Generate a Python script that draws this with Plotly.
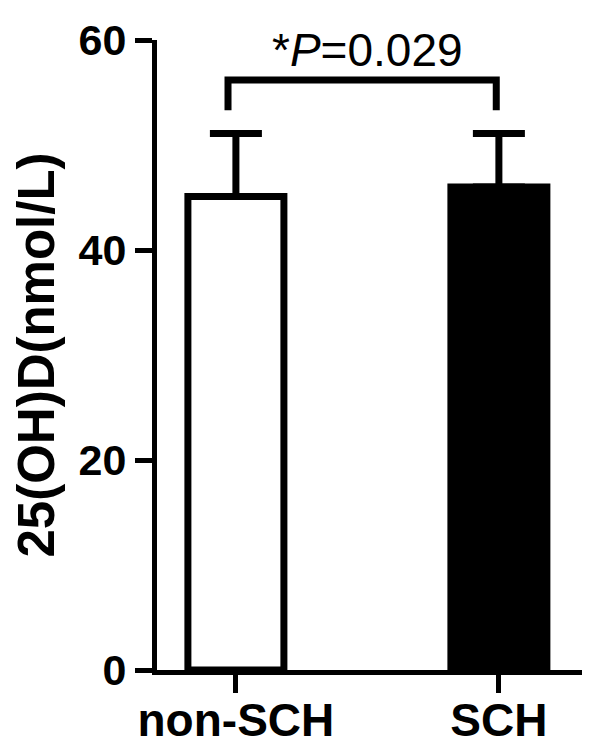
import plotly.graph_objs as go

groups = ['non-SCH', 'SCH']
group_pos = [0, 1]
means = [45.1, 46.0]
errors = [6.0, 5.1]
fills = ['white', 'black']

y_ticks = [0, 20, 40, 60]
bracket_y = 56.2   # top of the significance bracket
bracket_drop = 53.3  # where the bracket legs end
p_label = '*<i>P</i>=0.029'

font_family = 'Arial, Liberation Sans, sans-serif'

trace_bars = go.Bar(
    x=group_pos,
    y=means,
    width=0.365,
    marker=dict(color=fills,
                line=dict(color='black', width=7)),
    error_y=dict(type='data',
                 symmetric=False,
                 array=errors,
                 arrayminus=[0, 0],
                 color='black',
                 thickness=7,
                 width=26),
    showlegend=False
)

fig = go.Figure(data=[trace_bars])

# significance bracket between the two groups
left = group_pos[0] - 0.03
right = group_pos[1] - 0.01
fig.add_trace(go.Scatter(
    x=[left, left, right, right],
    y=[bracket_drop, bracket_y, bracket_y, bracket_drop],
    mode='lines',
    line=dict(color='black', width=7),
    hoverinfo='none',
    showlegend=False
))

fig.add_annotation(
    x=(group_pos[0] + group_pos[1]) / 2, y=bracket_y + 0.2,
    text=p_label,
    showarrow=False,
    yanchor='bottom',
    font=dict(family=font_family, size=46, color='black')
)

# the page body adds an 8px offset, so margins are shifted to compensate
fig.update_layout(
    width=591,
    height=749,
    margin=dict(l=149, r=17, t=32, b=87),
    plot_bgcolor='white',
    paper_bgcolor='white',
    font=dict(family=font_family, color='black'),
    xaxis=dict(
        range=[-0.3, 1.316],
        tickvals=group_pos,
        ticktext=['<b>%s</b>' % g for g in groups],
        showline=True,
        linecolor='black',
        linewidth=5,
        ticks='outside',
        ticklen=18,
        tickwidth=5,
        tickcolor='black',
        tickfont=dict(size=46),
        ticklabelstandoff=-12,
        showgrid=False,
        zeroline=False,
        automargin=False
    ),
    yaxis=dict(
        range=[0, 60],
        tickvals=y_ticks,
        ticktext=['<b>%d</b>' % v for v in y_ticks],
        showline=True,
        linecolor='black',
        linewidth=5,
        ticks='outside',
        ticklen=17,
        tickwidth=5,
        tickcolor='black',
        tickfont=dict(size=43),
        title=dict(text='<b>25(OH)D(nmol/L)</b>', font=dict(size=51), standoff=40),
        showgrid=False,
        zeroline=False,
        automargin=False
    )
)

fig.write_html("out.html")
